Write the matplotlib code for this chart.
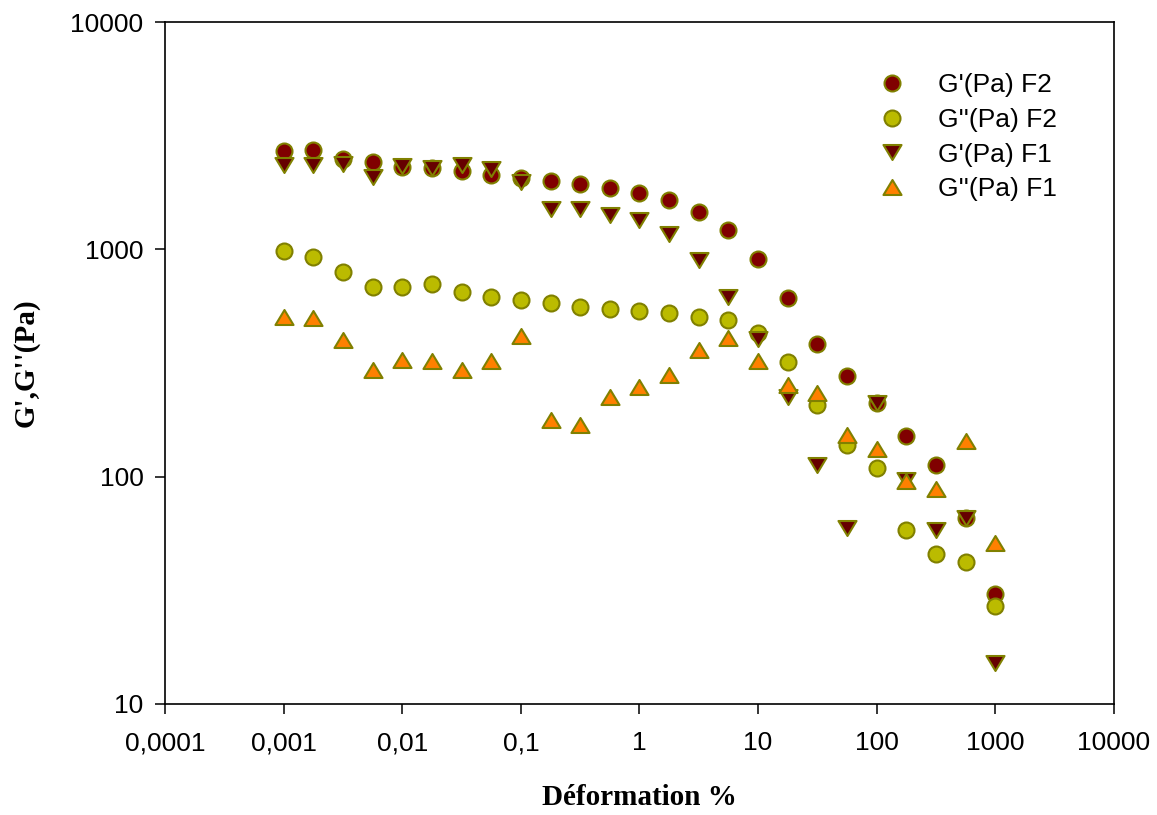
import numpy as np
import matplotlib
matplotlib.use("Agg")
import matplotlib.pyplot as plt
from matplotlib.path import Path

# strain (%) : quarter-decade steps from 0.001 to 1000
strain = [0.001, 0.00178, 0.00316, 0.00562, 0.01, 0.0178, 0.0316, 0.0562,
          0.1, 0.178, 0.316, 0.562, 1, 1.78, 3.16, 5.62,
          10, 17.8, 31.6, 56.2, 100, 178, 316, 562, 1000]

g1_f2 = [2710, 2730, 2500, 2430, 2310, 2290, 2200, 2120, 2060, 1990,
         1930, 1860, 1770, 1640, 1460, 1220, 910, 613, 384, 277,
         210, 151, 113, 66, 30.4]
g2_f2 = [986, 923, 798, 686, 686, 702, 652, 620, 599, 583,
         560, 545, 536, 523, 506, 489, 427, 318, 207, 138,
         109, 58.3, 45.6, 42.2, 26.9]
g1_f1 = [2340, 2340, 2370, 2080, 2330, 2290, 2350, 2250, 1980, 1500,
         1500, 1420, 1340, 1165, 900, 618, 405, 225, 112, 59.3,
         210, 97, 58.4, 65.6, 15.1]
g2_f1 = [503, 499, 399, 294, 327, 322, 294, 323, 415, 177,
         168, 225, 248, 279, 361, 408, 324, 254, 234, 153,
         132, 95.5, 88, 144, 51]

labels = ["G'(Pa) F2", "G''(Pa) F2", "G'(Pa) F1", "G''(Pa) F1"]
xticks = [0.0001, 0.001, 0.01, 0.1, 1, 10, 100, 1000, 10000]
xticklabels = ["0,0001", "0,001", "0,01", "0,1", "1", "10", "100", "1000", "10000"]
yticks = [10, 100, 1000, 10000]
yticklabels = ["10", "100", "1000", "10000"]

plt.rcParams['font.family'] = ['Liberation Sans', 'DejaVu Sans']

h = 0.83
up_tri = Path([(0, h), (-1, -h), (1, -h), (0, h)],
              [Path.MOVETO, Path.LINETO, Path.LINETO, Path.CLOSEPOLY])
down_tri = Path([(0, -h), (-1, h), (1, h), (0, -h)],
                [Path.MOVETO, Path.LINETO, Path.LINETO, Path.CLOSEPOLY])

fig = plt.figure(figsize=(11.57, 8.15), dpi=100)
ax = fig.add_axes([0.1426, 0.1362, 0.8202, 0.8368])

edge = '#808000'
ax.plot(strain, g1_f2, ls='none', marker='o', ms=11.5, mfc='#800000',
        mec=edge, mew=1.5, label=labels[0])
ax.plot(strain, g2_f2, ls='none', marker='o', ms=11.5, mfc='#BBBB00',
        mec=edge, mew=1.5, label=labels[1])
ax.plot(strain, g1_f1, ls='none', marker=down_tri, ms=13, mfc='#660000',
        mec=edge, mew=1.5, label=labels[2])
ax.plot(strain, g2_f1, ls='none', marker=up_tri, ms=13, mfc='#FF8000',
        mec=edge, mew=1.5, label=labels[3])

ax.set_xscale('log')
ax.set_yscale('log')
ax.set_xlim(0.0001, 10000)
ax.set_ylim(10, 10000)
ax.set_xticks(xticks)
ax.set_xticklabels(xticklabels)
ax.set_yticks(yticks)
ax.set_yticklabels(yticklabels)
ax.minorticks_off()
ax.tick_params(axis='both', direction='out', length=7.5, width=1.1,
               labelsize=19, pad=8)
ax.tick_params(axis='x', pad=12)
for s in ax.spines.values():
    s.set_linewidth(1.2)

ax.set_xlabel("Déformation %", family=['Liberation Serif'], fontweight='bold',
              fontsize=21, labelpad=21)
ax.set_ylabel("G',G''(Pa)", family=['Liberation Serif'], fontweight='bold',
              fontsize=21, labelpad=22)

leg = ax.legend(loc='upper left', bbox_to_anchor=(0.741, 0.94), frameon=False,
                fontsize=19, handletextpad=1.25, labelspacing=0.4,
                handlelength=1.0, borderaxespad=0)

fig.savefig("out.png", dpi=100)
